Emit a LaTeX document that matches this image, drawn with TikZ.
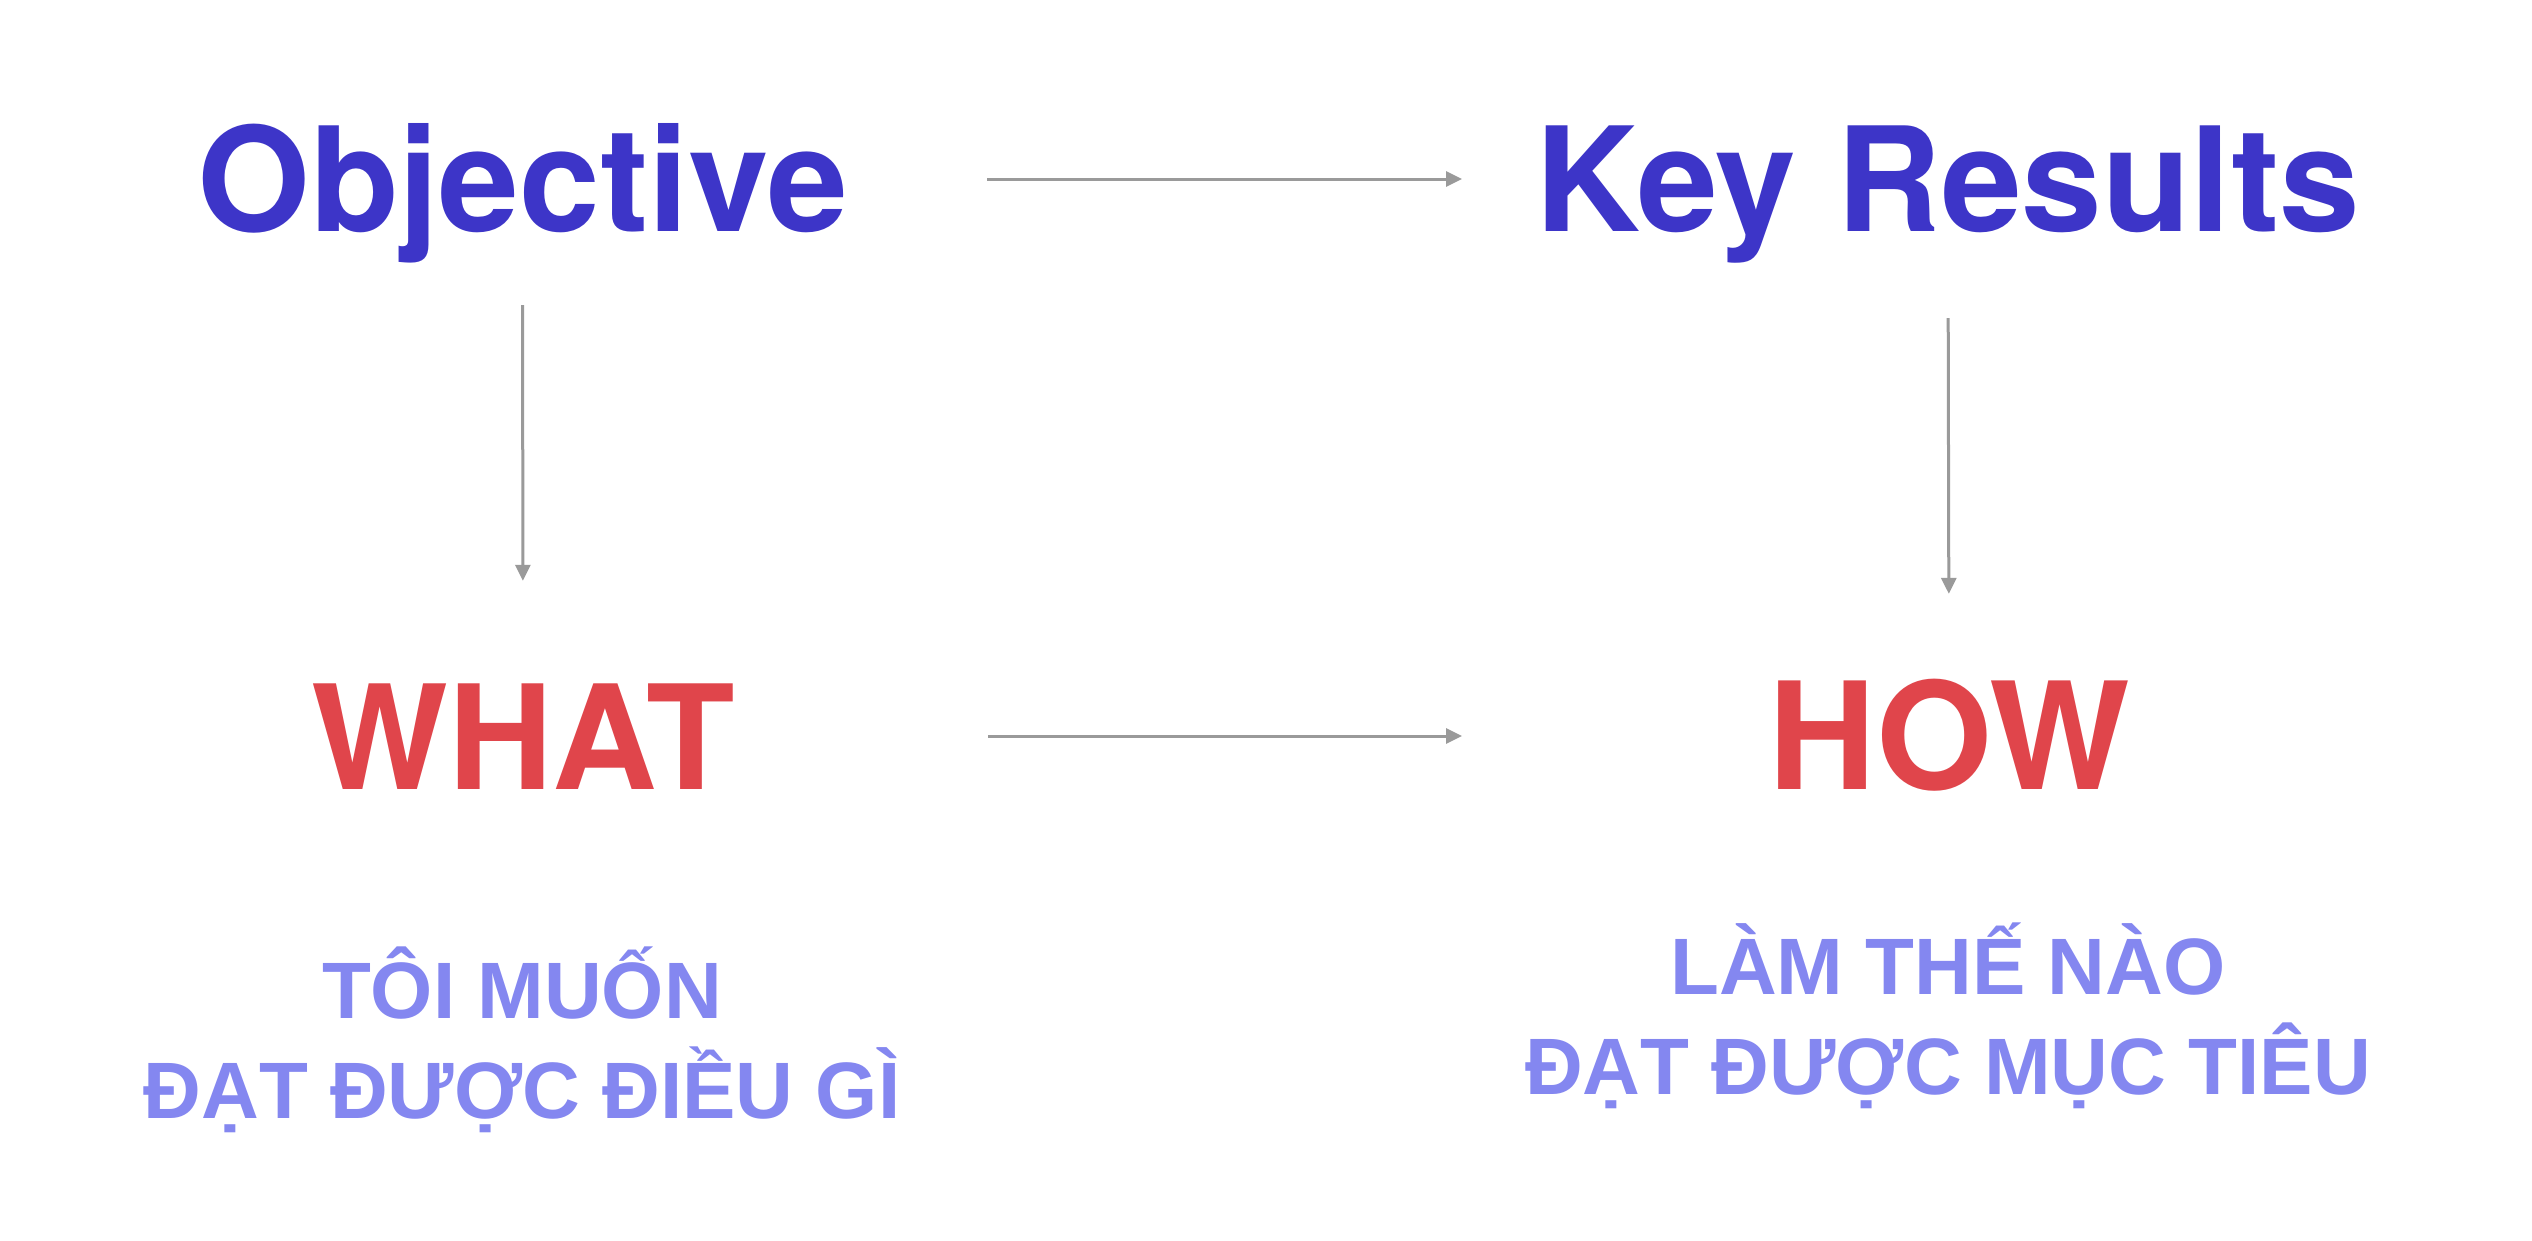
\documentclass[tikz,border=0pt]{standalone}
\usepackage{fontspec}
\usetikzlibrary{arrows.meta}
\newfontfamily\headfont{TeX Gyre Heros}
\newfontfamily\subfont{Liberation Sans}
\definecolor{headblue}{HTML}{3D35C8}
\definecolor{headred}{HTML}{E0454B}
\definecolor{subblue}{HTML}{8487F0}
\definecolor{arrowgray}{HTML}{9A9A9A}
\tikzset{
  headtext/.style={inner sep=0pt, anchor=base, text height=108pt, text depth=0pt,
    font=\headfont\bfseries\fontsize{145}{145}\selectfont},
  subtext/.style={inner sep=0pt, anchor=base, align=center,
    font=\subfont\bfseries\fontsize{80}{100}\selectfont, text=subblue},
  conn/.style={draw=arrowgray, line width=3pt, -{Triangle[length=16pt,width=15pt]}}
}
\begin{document}
\begin{tikzpicture}[x=1pt,y=-1pt]
\useasboundingbox[fill=white] (0,0) rectangle (2532,1240);
\node[headtext, text=headblue] (obj) at (522.5,231) {Objective};
\node[headtext, text=headblue] (kr) at (1948,231) {Key Results};
\node[headtext, text=headred] (what) at (523,789) {WHAT};
\node[headtext, text=headred, font=\headfont\bfseries\fontsize{149}{149}\selectfont] (how) at (1949,789) {HOW};
\node[subtext] (sub1) at (522,1118) {TÔI MUỐN\\ĐẠT ĐƯỢC ĐIỀU GÌ};
\node[subtext] (sub2) at (1948,1094) {LÀM THẾ NÀO\\ĐẠT ĐƯỢC MỤC TIÊU};
\coordinate (h1s) at (987,179);
\coordinate (h1e) at (1462,179);
\coordinate (h2s) at (988,736);
\coordinate (h2e) at (1462,736);
\draw[conn] (h1s) -- (h1e);
\draw[conn] (h2s) -- (h2e);
\draw[conn, shorten <=74pt, shorten >=100pt] (obj.south) -- (what.north);
\draw[conn, shorten <=87pt, shorten >=87pt] (kr.south) -- (how.north);
\end{tikzpicture}
\end{document}
